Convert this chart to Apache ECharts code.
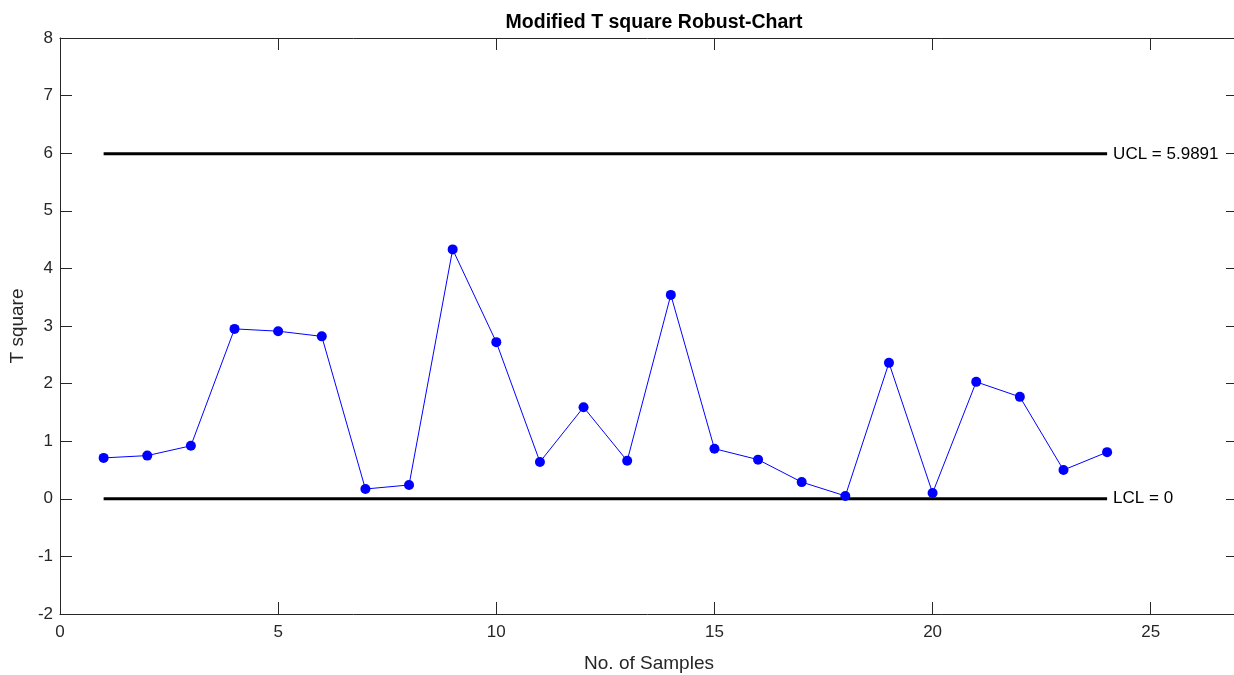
<!DOCTYPE html>
<html>
<head>
<meta charset="utf-8">
<script src="https://cdn.jsdelivr.net/npm/echarts@6/dist/echarts.min.js"></script>
<style>html,body{margin:0;padding:0;background:#fff}#c{width:1234px;height:675px}</style>
</head>
<body>
<div id="c"></div>
<script>
const samples = [1,2,3,4,5,6,7,8,9,10,11,12,13,14,15,16,17,18,19,20,21,22,23,24];
const tsquare = [0.71,0.75,0.92,2.95,2.91,2.82,0.17,0.24,4.33,2.72,0.64,1.59,0.66,3.54,0.87,0.68,0.29,0.05,2.36,0.10,2.03,1.77,0.50,0.81];
const ucl = 5.9891;
const lcl = 0;
const uclLabel = 'UCL = 5.9891';
const lclLabel = 'LCL = 0';

const font = 'Liberation Sans, Arial, Helvetica, sans-serif';
const axisColor = '#262626';
const chart = echarts.init(document.getElementById('c'), null, {renderer:'canvas'});

function limitSeries(val, text){
  const first = samples[0], last = samples[samples.length-1];
  return {
    type:'line', xAxisIndex:0, yAxisIndex:0, symbol:'none', silent:true, clip:false,
    lineStyle:{color:'#000', width:3},
    data:[[first,val],[last,val]],
    endLabel:{show:true, distance:6, formatter:text, color:'#000', fontSize:17, fontFamily:font},
    z:3
  };
}

chart.setOption({
  animation:false,
  title:{text:'Modified T square Robust-Chart', left:649, textAlign:'center', top:8,
    textStyle:{fontFamily:font, fontWeight:'bold', fontSize:19.5, color:'#000'}},
  grid:{left:60, top:38, width:1178, height:576, outerBoundsMode:'none', containLabel:false},
  xAxis:[{
    type:'value', min:0, max:27, interval:5,
    name:'No. of Samples', nameLocation:'middle', nameGap:40,
    nameTextStyle:{fontFamily:font, fontSize:19, color:axisColor},
    axisLine:{show:true, onZero:false, lineStyle:{color:axisColor, width:1}},
    axisTick:{show:true, inside:true, length:12, lineStyle:{color:axisColor}},
    axisLabel:{fontFamily:font, fontSize:17, color:axisColor, margin:10, showMaxLabel:false},
    splitLine:{show:false}
  },{
    type:'value', min:0, max:27, interval:5, position:'top',
    axisLine:{show:true, onZero:false, lineStyle:{color:axisColor, width:1}},
    axisTick:{show:true, inside:true, length:12, lineStyle:{color:axisColor}},
    axisLabel:{show:false}, splitLine:{show:false}
  }],
  yAxis:[{
    type:'value', min:-2, max:8, interval:1,
    name:'T square', nameLocation:'middle', nameGap:30, nameRotate:90,
    nameTextStyle:{fontFamily:font, fontSize:19, color:axisColor},
    axisLine:{show:true, onZero:false, lineStyle:{color:axisColor, width:1}},
    axisTick:{show:true, inside:true, length:12, lineStyle:{color:axisColor}},
    axisLabel:{fontFamily:font, fontSize:17, color:axisColor, margin:7},
    splitLine:{show:false}
  },{
    type:'value', min:-2, max:8, interval:1, position:'right',
    axisLine:{show:true, onZero:false, lineStyle:{color:axisColor, width:1}},
    axisTick:{show:true, inside:true, length:12, lineStyle:{color:axisColor}},
    axisLabel:{show:false}, splitLine:{show:false}
  }],
  series:[
    limitSeries(ucl, uclLabel),
    limitSeries(lcl, lclLabel),
    {
      type:'line', xAxisIndex:0, yAxisIndex:0,
      data:samples.map((s,i)=>[s,tsquare[i]]),
      symbol:'circle', symbolSize:10, showSymbol:true,
      itemStyle:{color:'#0000ff'},
      lineStyle:{color:'#0000ff', width:1},
      z:5
    }
  ]
});
</script>
</body>
</html>
